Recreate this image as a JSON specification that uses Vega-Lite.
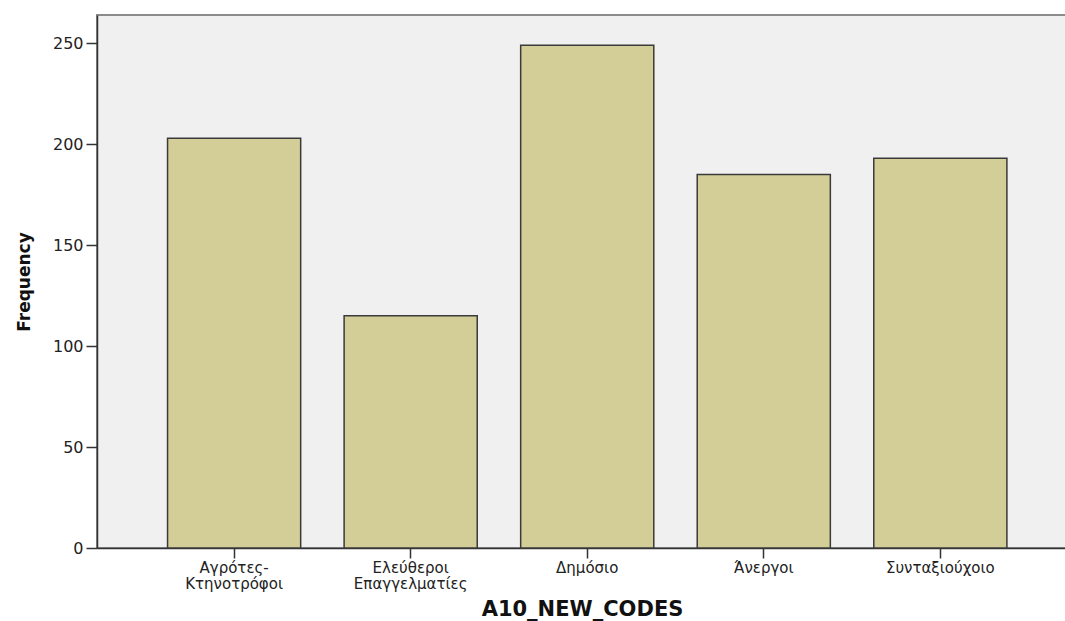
{
  "$schema": "https://vega.github.io/schema/vega-lite/v6.json",
  "autosize": {"type": "none"},
  "padding": {"left": 97, "top": 15, "right": 0, "bottom": 73},
  "width": 970,
  "height": 533,
  "background": "#FFFFFF",
  "view": {"fill": "#F0F0F0", "stroke": "#8C8C8C", "strokeWidth": 2},
  "data": {
    "values": [
      {"category": "Αγρότες-Κτηνοτρόφοι", "frequency": 203},
      {"category": "Ελεύθεροι Επαγγελματίες", "frequency": 115},
      {"category": "Δημόσιο", "frequency": 249},
      {"category": "Άνεργοι", "frequency": 185},
      {"category": "Συνταξιούχοιο", "frequency": 193}
    ]
  },
  "mark": {"type": "bar", "fill": "#D3CE97", "stroke": "#3A3A3A", "strokeWidth": 1.5},
  "encoding": {
    "x": {
      "field": "category",
      "type": "nominal",
      "sort": null,
      "title": "A10_NEW_CODES",
      "scale": {"paddingInner": 0.246, "paddingOuter": 0.37, "align": 0.54},
      "axis": {
        "labelAngle": 0,
        "labelExpr": "split(replace(datum.value, '-', '- '), ' ')",
        "labelFont": "DejaVu Sans",
        "labelFontSize": 15,
        "labelColor": "#222222",
        "labelLineHeight": 16,
        "labelPadding": 2,
        "labelLimit": 0,
        "tickSize": 10,
        "tickColor": "#333333",
        "tickWidth": 1.5,
        "domainColor": "#333333",
        "domainWidth": 1.5,
        "titleFont": "DejaVu Sans",
        "titleFontWeight": "bold",
        "titleFontSize": 21,
        "titleColor": "#111111",
        "titlePadding": 7
      }
    },
    "y": {
      "field": "frequency",
      "type": "quantitative",
      "title": "Frequency",
      "scale": {"domain": [0, 264], "nice": false, "zero": true},
      "axis": {
        "values": [0, 50, 100, 150, 200, 250],
        "grid": false,
        "labelFont": "DejaVu Sans",
        "labelFontSize": 16,
        "labelColor": "#222222",
        "labelPadding": 3,
        "tickSize": 11,
        "tickColor": "#333333",
        "tickWidth": 1.5,
        "domainColor": "#333333",
        "domainWidth": 1.5,
        "titleFont": "DejaVu Sans",
        "titleFontWeight": "bold",
        "titleFontSize": 17,
        "titleColor": "#111111",
        "titlePadding": 19
      }
    }
  }
}
